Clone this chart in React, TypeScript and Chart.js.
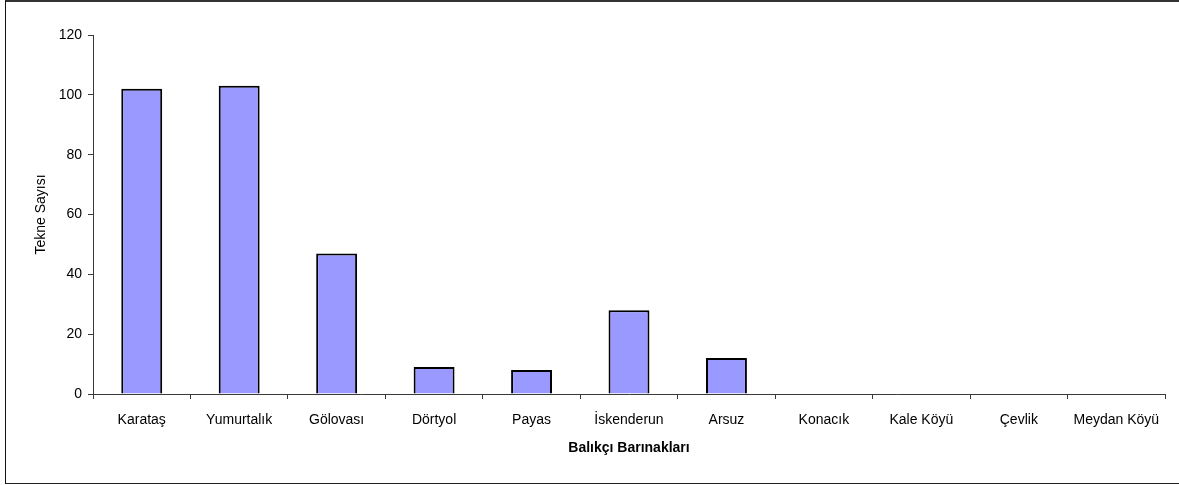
import React, { useEffect, useRef } from "react";
import { Chart, registerables } from "chart.js";

Chart.register(...registerables);

const harbours = [
  "Karataş",
  "Yumurtalık",
  "Gölovası",
  "Dörtyol",
  "Payas",
  "İskenderun",
  "Arsuz",
  "Konacık",
  "Kale Köyü",
  "Çevlik",
  "Meydan Köyü",
];

const boatCounts = [102, 103, 47, 9, 8, 28, 12, 0, 0, 0, 0];

const yTicks = [0, 20, 40, 60, 80, 100, 120];

const FONT = "'Liberation Sans', Arial, sans-serif";
const AXIS_COLOR = "#3a3a3a";

export default function App() {
  const canvasRef = useRef<HTMLCanvasElement | null>(null);

  useEffect(() => {
    document.body.style.margin = "0";
    const canvas = canvasRef.current;
    if (!canvas) return;
    const chart = new Chart(canvas, {
      type: "bar",
      data: {
        labels: harbours,
        datasets: [
          {
            label: "Tekne Sayısı",
            data: boatCounts,
            backgroundColor: "#9999ff",
            borderColor: "#000000",
            borderWidth: 2,
            categoryPercentage: 1,
            barPercentage: 0.42,
          },
        ],
      },
      options: {
        responsive: false,
        animation: false,
        events: [],
        layout: { padding: { left: 30, right: 14, top: 35, bottom: 25 } },
        plugins: {
          legend: { display: false },
          tooltip: { enabled: false },
        },
        scales: {
          x: {
            offset: true,
            grid: {
              offset: true,
              drawOnChartArea: false,
              drawTicks: true,
              tickLength: 5,
              color: AXIS_COLOR,
              lineWidth: 1,
            },
            border: { color: AXIS_COLOR, width: 1 },
            ticks: {
              color: "#000",
              padding: 13,
              maxRotation: 0,
              autoSkip: false,
              font: { family: FONT, size: 14 },
            },
            title: {
              display: true,
              text: "Balıkçı Barınakları",
              color: "#000",
              padding: { top: 0, bottom: 3 },
              font: { family: FONT, size: 14, weight: "bold" },
            },
            afterFit: (scale: any) => {
              scale.height = 66;
            },
          },
          y: {
            min: 0,
            max: 120,
            afterBuildTicks: (scale: any) => {
              scale.ticks = yTicks.map((v) => ({ value: v }));
            },
            grid: {
              drawOnChartArea: false,
              drawTicks: true,
              tickLength: 5,
              color: AXIS_COLOR,
              lineWidth: 1,
            },
            border: { color: AXIS_COLOR, width: 1 },
            ticks: {
              color: "#000",
              padding: 6,
              font: { family: FONT, size: 14 },
            },
            title: {
              display: true,
              text: "Tekne Sayısı",
              color: "#000",
              padding: { top: 3, bottom: 0 },
              font: { family: FONT, size: 14 },
            },
            afterFit: (scale: any) => {
              scale.width = 63;
            },
          },
        },
      },
    });
    return () => chart.destroy();
  }, []);

  return (
    <div style={{ position: "relative", width: 1179, height: 485, overflow: "hidden", background: "#fff" }}>
      <div
        style={{
          position: "absolute",
          left: 5,
          top: 0,
          width: 1250,
          height: 481,
          borderTop: "2px solid #333",
          borderLeft: "1px solid #111",
          borderBottom: "1px solid #222",
        }}
      />
      <canvas
        ref={canvasRef}
        width={1179}
        height={485}
        style={{ position: "absolute", left: 0, top: 0, display: "block" }}
      />
    </div>
  );
}
